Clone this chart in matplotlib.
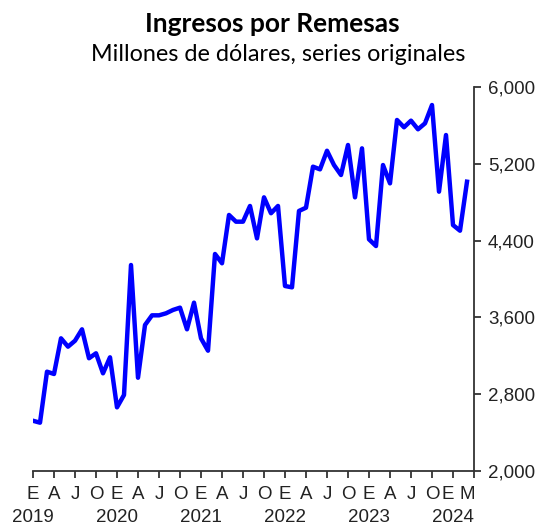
import numpy as np
import matplotlib.pyplot as plt

# remesas mensuales, ene-2019 a mar-2024 (millones de dolares)
y2019 = [2521, 2501, 3033, 3009, 3381, 3294, 3356, 3475, 3173, 3225, 3016, 3183]
y2020 = [2661, 2790, 4146, 2970, 3520, 3621, 3621, 3642, 3677, 3701, 3475, 3753]
y2021 = [3381, 3252, 4261, 4164, 4668, 4598, 4598, 4762, 4424, 4852, 4686, 4762]
y2022 = [3927, 3913, 4710, 4744, 5172, 5144, 5338, 5189, 5085, 5398, 4852, 5363]
y2023 = [4414, 4344, 5189, 4998, 5659, 5583, 5652, 5562, 5624, 5815, 4911, 5502]
y2024 = [4563, 4504, 5015]
years = ['2019', '2020', '2021', '2022', '2023', '2024']
quarter_letters = ['E', 'A', 'J', 'O']
last_letter = 'M'

values = np.array(y2019 + y2020 + y2021 + y2022 + y2023 + y2024)
x = np.arange(len(values))

plt.rcParams['font.family'] = ['Liberation Sans', 'DejaVu Sans']

fig = plt.figure(figsize=(5.45, 5.28), dpi=100)
ax = fig.add_axes([33/545, 1-470.7/528, (474-33)/545, (470.7-87.3)/528])

ax.plot(x, values, color='#0000ff', lw=3.2)

ax.set_xlim(0, len(values))
ax.set_ylim(2000, 6000)

# ejes: solo derecho e inferior
for s in ['left', 'top']:
    ax.spines[s].set_visible(False)
for s in ['right', 'bottom']:
    ax.spines[s].set_color('#333333')
    ax.spines[s].set_linewidth(1.3)

ax.yaxis.tick_right()
ax.set_yticks(np.arange(2000, 6001, 800))
ax.set_yticklabels([f'{v:,}' for v in range(2000, 6001, 800)])
ax.tick_params(axis='y', direction='out', length=5, width=1.3, color='#333333',
               labelsize=13.5, pad=5, labelcolor='#222222')

# letras de meses (mayores, sin marca)
lab_pos = list(range(0, len(values) - 1, 3))
lab_txt = [quarter_letters[(p // 3) % 4] for p in lab_pos]
lab_pos[-1] = lab_pos[-1] - 0.7   # la E de 2024 se corre para no chocar con la M
lab_pos.append(len(values) - 1)
lab_txt.append(last_letter)
ax.set_xticks(lab_pos)
ax.set_xticklabels(lab_txt)
ax.tick_params(axis='x', which='major', length=0, labelsize=13.5, pad=11, labelcolor='#222222')

# marcas trimestrales (menores)
ax.xaxis.remove_overlapping_locs = False
ax.set_xticks(np.arange(0, len(values) + 1, 3), minor=True)
ax.tick_params(axis='x', which='minor', direction='out', length=5, width=1.3, color='#333333')

# años en segunda fila
for i, yr in enumerate(years):
    ax.text(i * 12, (470.7 - 518) / 383.4, yr, transform=ax.get_xaxis_transform(),
            ha='center', va='center', fontsize=13.5, color='#222222')

fig.text(272.5/545, 1-32.3/528, 'Ingresos por Remesas', ha='center', va='baseline',
         fontsize=19, fontweight='bold', family='Lato')
fig.text(278/545, 1-60.7/528, 'Millones de dólares, series originales', ha='center', va='baseline',
         fontsize=16.8, family='Lato')

fig.savefig('out.png', dpi=100)
